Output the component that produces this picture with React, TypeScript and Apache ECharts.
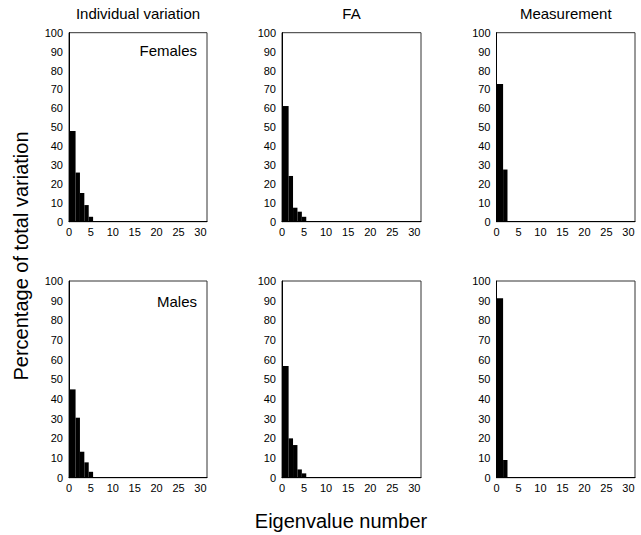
import React, { useEffect, useRef } from "react";
import * as echarts from "echarts";

const columnTitles = ["Individual variation", "FA", "Measurement"];
const rowLabels = ["Females", "Males"];
const xAxisTitle = "Eigenvalue number";
const yAxisTitle = "Percentage of total variation";
const xTicks = [0, 5, 10, 15, 20, 25, 30];
const yTicks = [0, 10, 20, 30, 40, 50, 60, 70, 80, 90, 100];

// eigenvalue percentages (eigenvalue number = index + 1)
const femalesIndividual = [48, 26, 15.2, 8.8, 2.6];
const femalesFA = [61.2, 24.2, 7.4, 5.3, 2.6];
const femalesMeasurement = [72.8, 27.6];
const malesIndividual = [44.9, 30.5, 13.2, 7.8, 3.0];
const malesFA = [56.8, 20, 16.6, 4.2, 2.2];
const malesMeasurement = [91.2, 9.0];

const panels = [
  femalesIndividual,
  femalesFA,
  femalesMeasurement,
  malesIndividual,
  malesFA,
  malesMeasurement,
];

const colLeft = [69, 282, 496.5];
const colWidth = [138, 139, 138.5];
const rowTop = [32.7, 281];
const rowHeight = [189, 196.7];

const FONT = "Liberation Sans, Arial, Helvetica, sans-serif";

export default function App() {
  const ref = useRef<HTMLDivElement>(null);
  useEffect(() => {
    if (!ref.current) return;
    const chart = echarts.init(ref.current, null, { renderer: "svg" });
    const grids: any[] = [];
    const xAxes: any[] = [];
    const yAxes: any[] = [];
    const series: any[] = [];
    panels.forEach((vals, i) => {
      const r = Math.floor(i / 3);
      const c = i % 3;
      grids.push({
        left: colLeft[c],
        top: rowTop[r],
        width: colWidth[c],
        height: rowHeight[r],
        show: true,
        borderColor: "#333",
        borderWidth: 1,
        backgroundColor: "transparent",
      });
      xAxes.push({
        type: "value",
        gridIndex: i,
        min: xTicks[0],
        max: 31.5,
        interval: 5,
        splitLine: { show: false },
        axisTick: { show: false },
        axisLine: { show: true, onZero: false, lineStyle: { color: "#000", width: 1 } },
        axisLabel: {
          color: "#000",
          fontSize: 11,
          fontFamily: FONT,
          margin: 5,
          formatter: (v: number) => (xTicks.indexOf(v) >= 0 ? String(v) : ""),
        },
      });
      yAxes.push({
        type: "value",
        gridIndex: i,
        min: yTicks[0],
        max: yTicks[yTicks.length - 1],
        interval: 10,
        splitLine: { show: false },
        axisTick: { show: false },
        axisLine: { show: true, lineStyle: { color: "#000", width: 1 } },
        axisLabel: { color: "#000", fontSize: 11, fontFamily: FONT, margin: 6 },
      });
      series.push({
        type: "custom",
        xAxisIndex: i,
        yAxisIndex: i,
        data: vals.map((v, k) => [k + 1, v]),
        encode: { x: 0, y: 1 },
        renderItem: (params: any, api: any) => {
          const n = api.value(0);
          const v = api.value(1);
          const x0 = n === 1 ? 0 : n - 0.5;
          const p0 = api.coord([x0, v]);
          const p1 = api.coord([n + 0.5, 0]);
          return {
            type: "rect",
            shape: { x: p0[0], y: p0[1], width: p1[0] - p0[0], height: p1[1] - p0[1] },
            style: { fill: "#000" },
          };
        },
      });
    });

    const graphic: any[] = [];
    columnTitles.forEach((t, c) => {
      graphic.push({
        type: "text",
        x: colLeft[c] + colWidth[c] / 2,
        y: 13,
        style: {
          text: t,
          fill: "#000",
          font: `15px ${FONT}`,
          textAlign: "center",
          textVerticalAlign: "middle",
        },
      });
    });
    rowLabels.forEach((t, r) => {
      graphic.push({
        type: "text",
        x: colLeft[0] + colWidth[0] - 10,
        y: rowTop[r] + (r === 0 ? 18 : 20),
        style: {
          text: t,
          fill: "#000",
          font: `15px ${FONT}`,
          textAlign: "right",
          textVerticalAlign: "middle",
        },
      });
    });
    graphic.push({
      type: "text",
      x: 341,
      y: 521,
      style: {
        text: xAxisTitle,
        fill: "#000",
        font: `20px ${FONT}`,
        textAlign: "center",
        textVerticalAlign: "middle",
      },
    });
    graphic.push({
      type: "text",
      x: 21,
      y: 256,
      rotation: Math.PI / 2,
      style: {
        text: yAxisTitle,
        fill: "#000",
        font: `20px ${FONT}`,
        textAlign: "center",
        textVerticalAlign: "middle",
      },
    });

    chart.setOption({
      animation: false,
      backgroundColor: "#fff",
      grid: grids,
      xAxis: xAxes,
      yAxis: yAxes,
      series,
      graphic,
    });
    return () => chart.dispose();
  }, []);
  return (
    <div
      ref={ref}
      style={{ position: "absolute", left: 0, top: 0, width: 641, height: 535 }}
    />
  );
}
